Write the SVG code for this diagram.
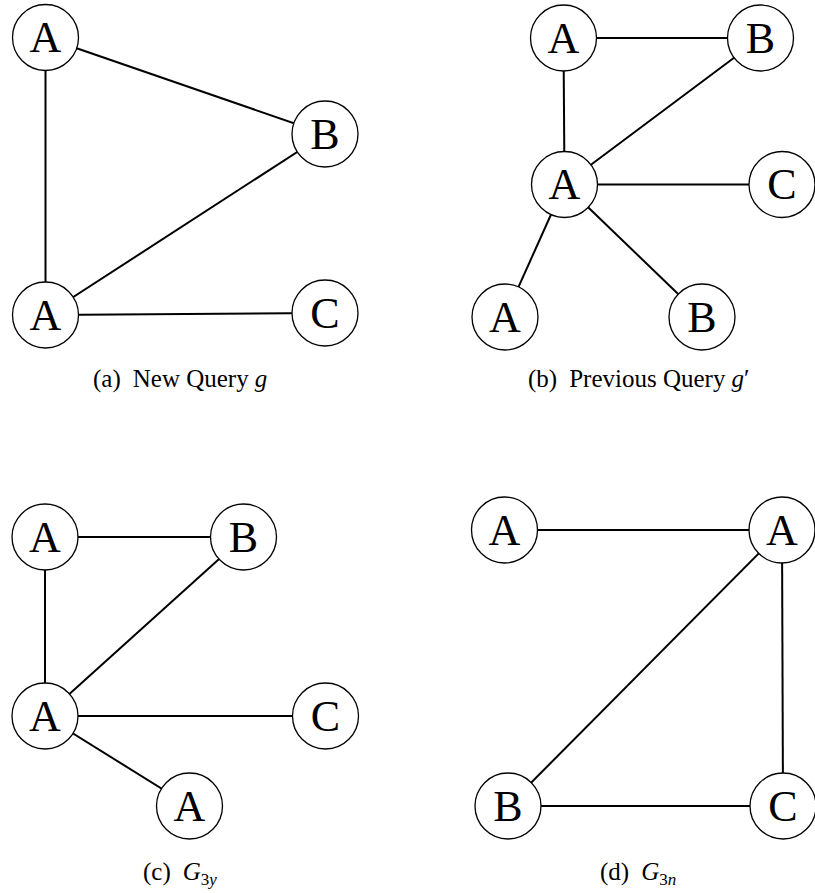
<svg xmlns="http://www.w3.org/2000/svg" width="815" height="893" viewBox="0 0 815 893">
  <style>
    .edge { stroke: #000; stroke-width: 2; fill: none; }
    .node circle { fill: #fff; stroke: #000; stroke-width: 1.3; }
    .node text { font-family: "Liberation Serif", "Times New Roman", serif; font-size: 44px; text-anchor: middle; fill: #000; }
    .cap { font-family: "Liberation Serif", "Times New Roman", serif; font-size: 25px; fill: #000; }
    .it { font-style: italic; }
  </style>
  <rect width="815" height="893" fill="#fff"/>

  <!-- connectors -->
  <g id="connectors">
    <!-- (a) -->
    <line class="edge" x1="45.5" y1="37.5" x2="325" y2="134"/>
    <line class="edge" x1="45.5" y1="37.5" x2="45.5" y2="315"/>
    <line class="edge" x1="45.5" y1="315" x2="325" y2="134"/>
    <line class="edge" x1="45.5" y1="315" x2="325" y2="313"/>
    <!-- (b) -->
    <line class="edge" x1="563.5" y1="38" x2="760.5" y2="38"/>
    <line class="edge" x1="563.5" y1="38" x2="564.5" y2="184.5"/>
    <line class="edge" x1="564.5" y1="184.5" x2="760.5" y2="38"/>
    <line class="edge" x1="564.5" y1="184.5" x2="782" y2="184.5"/>
    <line class="edge" x1="564.5" y1="184.5" x2="505" y2="317"/>
    <line class="edge" x1="564.5" y1="184.5" x2="702" y2="317"/>
    <!-- (c) -->
    <line class="edge" x1="45" y1="537" x2="243.5" y2="537"/>
    <line class="edge" x1="45" y1="537" x2="45" y2="716"/>
    <line class="edge" x1="45" y1="716" x2="243.5" y2="537"/>
    <line class="edge" x1="45" y1="716" x2="325.5" y2="716"/>
    <line class="edge" x1="45" y1="716" x2="189.5" y2="806"/>
    <!-- (d) -->
    <line class="edge" x1="504.5" y1="530" x2="782" y2="530"/>
    <line class="edge" x1="782" y1="530" x2="508" y2="806"/>
    <line class="edge" x1="782" y1="530" x2="783" y2="806"/>
    <line class="edge" x1="508" y1="806" x2="783" y2="806"/>
  </g>

  <!-- (a) New Query g -->
  <g id="a_A1" class="node"><circle cx="45.5" cy="37.5" r="33"/><text x="45.5" y="52">A</text></g>
  <g id="a_B" class="node"><circle cx="325" cy="134" r="33"/><text x="325" y="148.5">B</text></g>
  <g id="a_A2" class="node"><circle cx="45.5" cy="315" r="33"/><text x="45.5" y="329.5">A</text></g>
  <g id="a_C" class="node"><circle cx="325" cy="313" r="33"/><text x="325" y="327.5">C</text></g>

  <!-- (b) Previous Query g' -->
  <g id="b_A1" class="node"><circle cx="563.5" cy="38" r="33"/><text x="563.5" y="52.5">A</text></g>
  <g id="b_B1" class="node"><circle cx="760.5" cy="38" r="33"/><text x="760.5" y="52.5">B</text></g>
  <g id="b_A2" class="node"><circle cx="564.5" cy="184.5" r="33"/><text x="564.5" y="199">A</text></g>
  <g id="b_C" class="node"><circle cx="782" cy="184.5" r="33"/><text x="782" y="199">C</text></g>
  <g id="b_A3" class="node"><circle cx="505" cy="317" r="33"/><text x="505" y="331.5">A</text></g>
  <g id="b_B2" class="node"><circle cx="702" cy="317" r="33"/><text x="702" y="331.5">B</text></g>

  <!-- (c) G3y -->
  <g id="c_A1" class="node"><circle cx="45" cy="537" r="33"/><text x="45" y="551.5">A</text></g>
  <g id="c_B" class="node"><circle cx="243.5" cy="537" r="33"/><text x="243.5" y="551.5">B</text></g>
  <g id="c_A2" class="node"><circle cx="45" cy="716" r="33"/><text x="45" y="730.5">A</text></g>
  <g id="c_C" class="node"><circle cx="325.5" cy="716" r="33"/><text x="325.5" y="730.5">C</text></g>
  <g id="c_A3" class="node"><circle cx="189.5" cy="806" r="33"/><text x="189.5" y="820.5">A</text></g>

  <!-- (d) G3n -->
  <g id="d_A1" class="node"><circle cx="504.5" cy="530" r="33"/><text x="504.5" y="544.5">A</text></g>
  <g id="d_A2" class="node"><circle cx="782" cy="530" r="33"/><text x="782" y="544.5">A</text></g>
  <g id="d_B" class="node"><circle cx="508" cy="806" r="33"/><text x="508" y="820.5">B</text></g>
  <g id="d_C" class="node"><circle cx="783" cy="806" r="33"/><text x="783" y="820.5">C</text></g>

  <!-- sub-figure captions -->
  <g id="captions">
    <text class="cap" x="93" y="387">(a)<tspan dx="12">New Query</tspan><tspan class="it" dx="6">g</tspan></text>
    <text class="cap" x="528" y="387">(b)<tspan dx="12">Previous Query</tspan><tspan class="it" dx="6">g</tspan>′</text>
    <text class="cap" x="143" y="880">(c)<tspan class="it" dx="12">G</tspan><tspan font-size="17" dy="5">3<tspan class="it">y</tspan></tspan></text>
    <text class="cap" x="600" y="880">(d)<tspan class="it" dx="12">G</tspan><tspan font-size="17" dy="5">3<tspan class="it">n</tspan></tspan></text>
  </g>
</svg>
